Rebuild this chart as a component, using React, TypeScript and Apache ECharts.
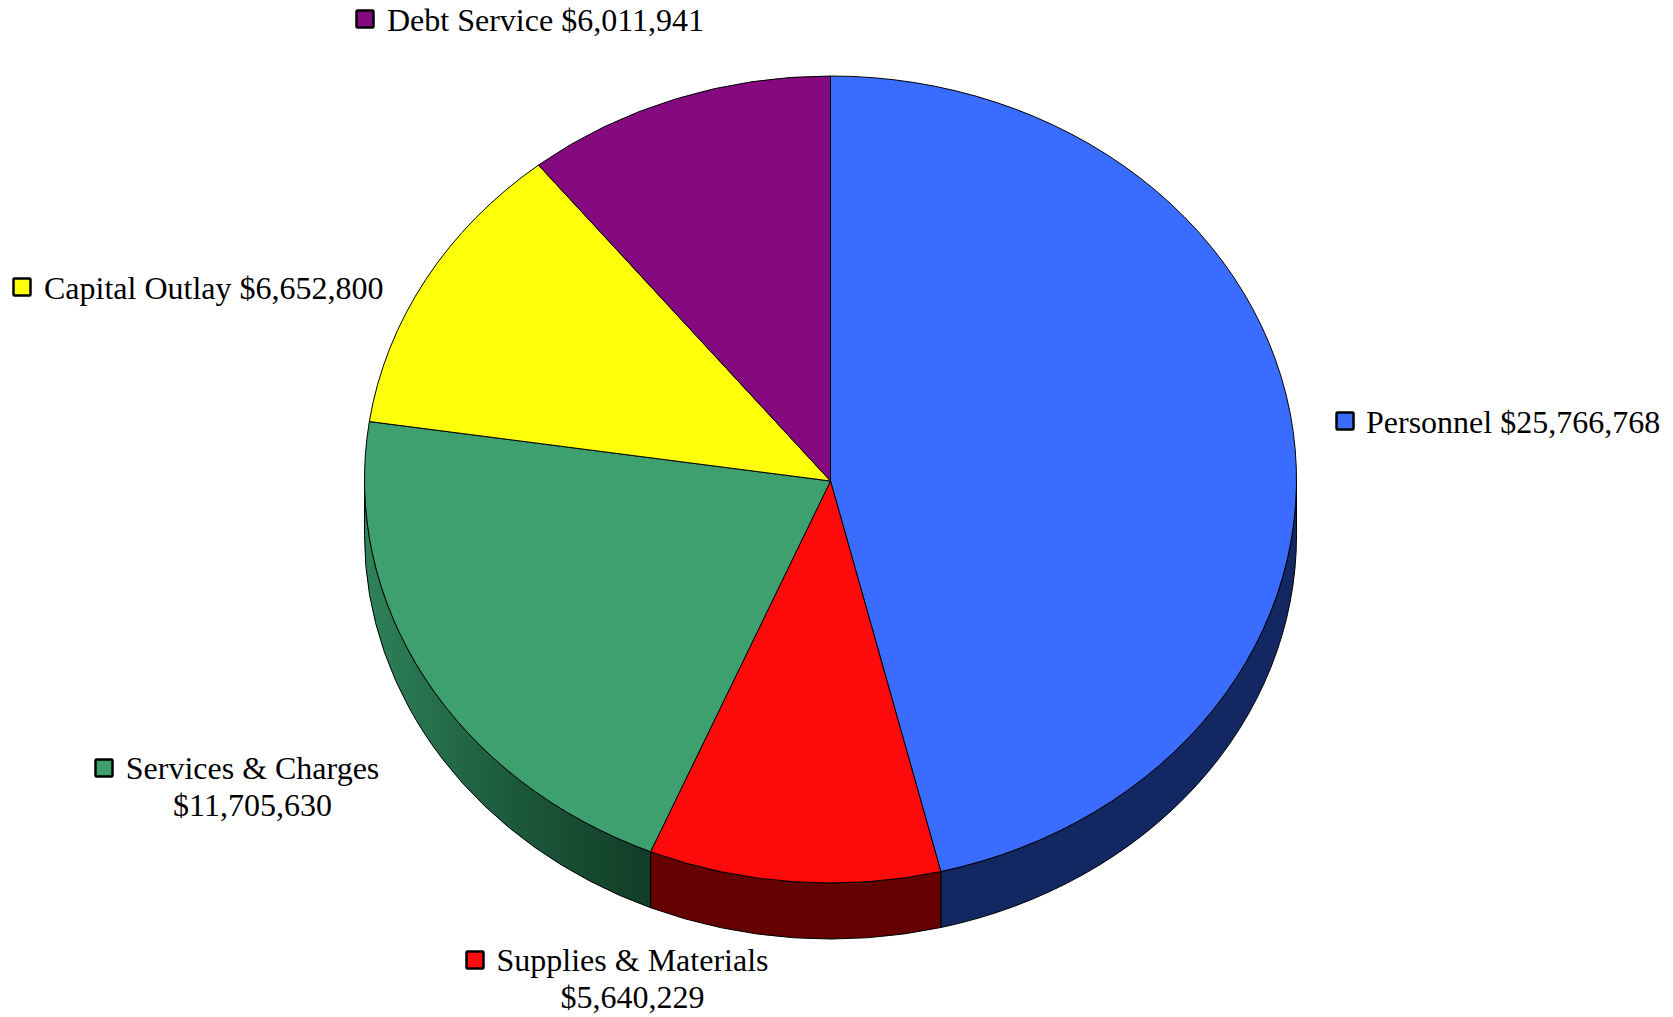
import React, { useEffect, useRef } from "react";
import * as echarts from "echarts";

// Budget categories, clockwise from twelve o'clock
const categories = ["Personnel", "Supplies & Materials", "Services & Charges", "Capital Outlay", "Debt Service"];
const amounts = [25766768, 5640229, 11705630, 6652800, 6011941];
const amountLabels = ["$25,766,768", "$5,640,229", "$11,705,630", "$6,652,800", "$6,011,941"];

const topColors = ["#3a6cff", "#ff0a0a", "#3da06e", "#ffff0a", "#850a80"];
const sideColors: any[] = [
  "#132863",
  "#640000",
  {
    type: "linear", x: 0, y: 0, x2: 1, y2: 0,
    colorStops: [
      { offset: 0, color: "#2f8259" },
      { offset: 0.5, color: "#1c5b3c" },
      { offset: 1, color: "#123c27" },
    ],
  },
  "#8a8a00",
  "#4a0546",
];

// Ellipse of the pie's upper face, the point its wedges meet at, and the rim height
const CX = 830.5;
const CY = 479.5;
const APEX_Y = 481;
const RX = 466;
const RY = 403.5;
const DEPTH = 56;

const total = amounts.reduce((a, b) => a + b, 0);
const startFraction = (i: number) => amounts.slice(0, i).reduce((a, b) => a + b, 0) / total;

// Angles run clockwise from the top of the ellipse
const px = (t: number) => CX + RX * Math.sin(t);
const py = (t: number) => CY - RY * Math.cos(t);

function arcTo(t0: number, t1: number, dy = 0) {
  const large = Math.abs(t1 - t0) > Math.PI ? 1 : 0;
  const sweep = t1 > t0 ? 1 : 0;
  return `A ${RX} ${RY} 0 ${large} ${sweep} ${px(t1)} ${py(t1) + dy}`;
}

function facePath(t0: number, t1: number) {
  return `M ${CX} ${APEX_Y} L ${px(t0)} ${py(t0)} ${arcTo(t0, t1)} Z`;
}

// The rim is only visible on the lower half of the ellipse
function rimPath(t0: number, t1: number) {
  const a = Math.max(t0, Math.PI / 2);
  const b = Math.min(t1, (3 * Math.PI) / 2);
  if (b <= a) return "";
  return `M ${px(a)} ${py(a)} ${arcTo(a, b)} L ${px(b)} ${py(b) + DEPTH} ${arcTo(b, a, DEPTH)} Z`;
}

const angleRange = (i: number, value: number) => {
  const t0 = startFraction(i) * 2 * Math.PI;
  return [t0, t0 + (value / total) * 2 * Math.PI];
};

const FONT = '"Liberation Serif", "Times New Roman", serif';
const FONT_SIZE = 32;
const LINE_GAP = 37;
// Distance from a top-anchored text's y to its baseline
const ASCENT = 28;

// Legend-like captions: swatch corner, then text lines with anchor and baseline
const captionLayout = [
  { box: [1336.5, 412.5], lines: [[`${categories[0]} ${amountLabels[0]}`, 1366, 434, "left"]] },
  {
    box: [466.5, 951.5],
    lines: [
      [categories[1], 632.5, 972, "center"],
      [amountLabels[1], 632.5, 972 + LINE_GAP, "center"],
    ],
  },
  {
    box: [95.5, 759.5],
    lines: [
      [categories[2], 252.5, 780, "center"],
      [amountLabels[2], 252.5, 780 + LINE_GAP, "center"],
    ],
  },
  { box: [13.5, 278.5], lines: [[`${categories[3]} ${amountLabels[3]}`, 44, 300, "left"]] },
  { box: [356.5, 10.5], lines: [[`${categories[4]} ${amountLabels[4]}`, 387, 32, "left"]] },
];

const captionGraphics = captionLayout.flatMap((c, i) => [
  {
    type: "rect",
    shape: { x: c.box[0], y: c.box[1], width: 17, height: 17, r: 1 },
    style: { fill: topColors[i], stroke: "#000", lineWidth: 2.5 },
  },
  ...c.lines.map((l) => ({
    type: "text",
    x: l[1],
    y: (l[2] as number) - ASCENT,
    style: {
      text: l[0],
      fill: "#000",
      font: `${FONT_SIZE}px ${FONT}`,
      textAlign: l[3],
      textVerticalAlign: "top",
    },
  })),
]);

export default function App() {
  const ref = useRef<HTMLDivElement>(null);

  useEffect(() => {
    if (!ref.current) return;
    const chart = echarts.init(ref.current, undefined, { renderer: "svg" });
    chart.setOption({
      animation: false,
      backgroundColor: "#fff",
      graphic: captionGraphics,
      series: [
        {
          type: "custom",
          coordinateSystem: "none",
          silent: true,
          data: amounts,
          renderItem: (params: any, api: any) => {
            const [t0, t1] = angleRange(params.dataIndex, api.value(0));
            const d = rimPath(t0, t1);
            if (!d) return { type: "group", children: [] };
            return {
              type: "path",
              shape: { pathData: d },
              style: { fill: sideColors[params.dataIndex], stroke: "#000", lineWidth: 1 },
            };
          },
        },
        {
          type: "custom",
          coordinateSystem: "none",
          silent: true,
          data: amounts,
          renderItem: (params: any, api: any) => {
            const [t0, t1] = angleRange(params.dataIndex, api.value(0));
            return {
              type: "path",
              shape: { pathData: facePath(t0, t1) },
              style: { fill: topColors[params.dataIndex], stroke: "#000", lineWidth: 1 },
            };
          },
        },
      ],
    });
    return () => chart.dispose();
  }, []);

  return <div ref={ref} style={{ position: "absolute", left: 0, top: 0, width: 1673, height: 1017 }} />;
}
